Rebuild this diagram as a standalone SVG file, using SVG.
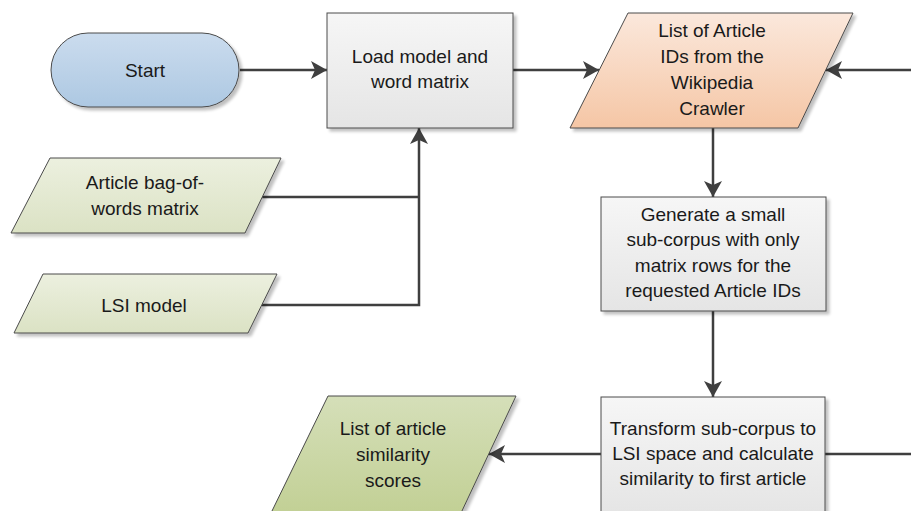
<svg xmlns="http://www.w3.org/2000/svg" width="911" height="511" viewBox="0 0 911 511">
<defs>
<linearGradient id="gBlue" x1="0" y1="0" x2="0" y2="1"><stop offset="0" stop-color="#cbdcee"/><stop offset="1" stop-color="#adc8e2"/></linearGradient>
<linearGradient id="gGray" x1="0" y1="0" x2="0" y2="1"><stop offset="0" stop-color="#f6f6f6"/><stop offset="1" stop-color="#e5e5e5"/></linearGradient>
<linearGradient id="gPeach" x1="0" y1="0" x2="0" y2="1"><stop offset="0" stop-color="#fbe8dc"/><stop offset="1" stop-color="#f5c6a5"/></linearGradient>
<linearGradient id="gGreen" x1="0" y1="0" x2="0" y2="1"><stop offset="0" stop-color="#ecf0df"/><stop offset="1" stop-color="#dbe2c4"/></linearGradient>
<linearGradient id="gOlive" x1="0" y1="0" x2="0" y2="1"><stop offset="0" stop-color="#d5dfb9"/><stop offset="1" stop-color="#c2d095"/></linearGradient>
<filter id="sh" x="-10%" y="-10%" width="130%" height="130%">
<feGaussianBlur in="SourceAlpha" stdDeviation="1.5"/>
<feOffset dx="3" dy="3" result="b"/>
<feComponentTransfer><feFuncA type="linear" slope="0.25"/></feComponentTransfer>
<feMerge><feMergeNode/><feMergeNode in="SourceGraphic"/></feMerge>
</filter>
<marker id="arr" markerWidth="17" markerHeight="18" refX="16" refY="9" orient="auto" markerUnits="userSpaceOnUse">
<path d="M0,0 L16,9 L0,18 L4,9 z" fill="#3f3f3f"/>
</marker>
</defs>
<style>
.shape{stroke:#4a4a4a;stroke-width:1;filter:url(#sh)}
.t{font-family:"Liberation Sans",Arial,sans-serif;font-size:19px;fill:#1a1a1a;text-anchor:middle}
.c{fill:none;stroke:#3f3f3f;stroke-width:2.5}
</style>

<g id="connectors">
<line class="c" x1="240" y1="70" x2="327" y2="70" marker-end="url(#arr)"/>
<line class="c" x1="513" y1="70" x2="599" y2="70" marker-end="url(#arr)"/>
<line class="c" x1="911" y1="70" x2="826" y2="70" marker-end="url(#arr)"/>
<line class="c" x1="713" y1="128" x2="713" y2="197" marker-end="url(#arr)"/>
<line class="c" x1="713" y1="311" x2="713" y2="397" marker-end="url(#arr)"/>
<line class="c" x1="601" y1="454" x2="489" y2="454" marker-end="url(#arr)"/>
<line class="c" x1="825" y1="454" x2="911" y2="454"/>
<polyline class="c" points="262,197 419,197"/>
<polyline class="c" points="262,305 419,305 419,128" marker-end="url(#arr)"/>
</g>

<g id="start">
<rect class="shape" x="51" y="33" width="188" height="74" rx="37" ry="37" fill="url(#gBlue)"/>
<text class="t" x="145" y="77">Start</text>
</g>

<g id="load">
<rect class="shape" x="327" y="13" width="186" height="115" fill="url(#gGray)"/>
<text class="t" x="420" y="63">Load model and</text>
<text class="t" x="420" y="88">word matrix</text>
</g>

<g id="article-ids">
<polygon class="shape" points="628,13 853,13 798,128 570,128" fill="url(#gPeach)"/>
<text class="t" x="712" y="37">List of Article</text>
<text class="t" x="712" y="63">IDs from the</text>
<text class="t" x="712" y="89">Wikipedia</text>
<text class="t" x="712" y="115">Crawler</text>
</g>

<g id="bag-of-words">
<polygon class="shape" points="50,158 281,158 245,233 11,233" fill="url(#gGreen)"/>
<text class="t" x="145" y="189">Article bag-of-</text>
<text class="t" x="145" y="215">words matrix</text>
</g>

<g id="lsi-model">
<polygon class="shape" points="43,274 277,274 248,333 14,333" fill="url(#gGreen)"/>
<text class="t" x="144" y="312">LSI model</text>
</g>

<g id="generate">
<rect class="shape" x="601" y="197" width="225" height="114" fill="url(#gGray)"/>
<text class="t" x="713" y="221">Generate a small</text>
<text class="t" x="713" y="246">sub-corpus with only</text>
<text class="t" x="713" y="272">matrix rows for the</text>
<text class="t" x="713" y="297">requested Article IDs</text>
</g>

<g id="transform">
<rect class="shape" x="601" y="397" width="224" height="116" fill="url(#gGray)"/>
<text class="t" x="713" y="435">Transform sub-corpus to</text>
<text class="t" x="713" y="460">LSI space and calculate</text>
<text class="t" x="713" y="485">similarity to first article</text>
</g>

<g id="similarity-scores">
<polygon class="shape" points="328,396 516,396 461,513 271,513" fill="url(#gOlive)"/>
<text class="t" x="393" y="435">List of article</text>
<text class="t" x="393" y="461">similarity</text>
<text class="t" x="393" y="487">scores</text>
</g>
</svg>
